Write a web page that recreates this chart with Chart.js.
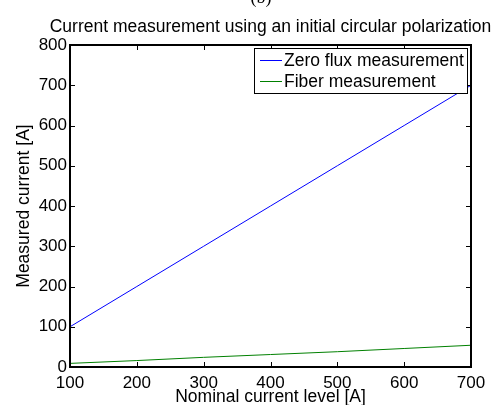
<!DOCTYPE html>
<html><head><meta charset="utf-8">
<script src="https://cdn.jsdelivr.net/npm/chart.js@4"></script>
<style>html,body{margin:0;padding:0;background:#fff}#c{display:block}</style>
</head><body>
<canvas id="c" width="493" height="405"></canvas>
<script>
const nominal = [100, 200, 300, 400, 500, 600, 700];
const zeroFlux = [100, 200, 300, 400, 500, 600, 700];
const fiber = [9, 16, 24, 31, 38, 46, 54];
const xTicks = [100, 200, 300, 400, 500, 600, 700];
const yTicks = [0, 100, 200, 300, 400, 500, 600, 700, 800];
const seriesColors = ['#0000ff', '#008000'];
const FONT = '"Liberation Sans", Arial, sans-serif';

const framePlugin = {
  id: 'frame',
  afterDatasetsDraw(chart) {
    const {ctx, chartArea: a, scales: {x, y}} = chart;
    ctx.save();
    ctx.strokeStyle = '#000';
    ctx.lineWidth = 1;
    const L = 5;
    ctx.beginPath();
    xTicks.forEach(v => {
      const px = Math.round(x.getPixelForValue(v)) + 0.5;
      ctx.moveTo(px, a.bottom); ctx.lineTo(px, a.bottom - L);
      ctx.moveTo(px, a.top); ctx.lineTo(px, a.top + L);
    });
    yTicks.forEach(v => {
      const py = Math.round(y.getPixelForValue(v)) + 0.5;
      ctx.moveTo(a.left, py); ctx.lineTo(a.left + L, py);
      ctx.moveTo(a.right, py); ctx.lineTo(a.right - L, py);
    });
    ctx.stroke();
    ctx.lineWidth = 2;
    ctx.strokeRect(a.left, a.top, a.right - a.left, a.bottom - a.top);

    // legend
    const lx = 254.5, ly = 48.5, lw = 213, lh = 45;
    ctx.fillStyle = '#fff';
    ctx.fillRect(lx, ly, lw, lh);
    ctx.lineWidth = 1;
    ctx.strokeStyle = '#000';
    ctx.strokeRect(lx, ly, lw, lh);
    ctx.font = '17.5px ' + FONT;
    ctx.textBaseline = 'middle';
    chart.data.datasets.forEach((ds, i) => {
      const yy = Math.round(ly + 11 + i * 21);
      ctx.strokeStyle = ds.borderColor;
      ctx.beginPath();
      ctx.moveTo(260, yy + 0.5); ctx.lineTo(282, yy + 0.5);
      ctx.stroke();
      ctx.fillStyle = '#000';
      ctx.fillText(ds.label, 284, yy + 1);
    });

    // title
    ctx.textAlign = 'center';
    ctx.textBaseline = 'alphabetic';
    ctx.font = '17.5px ' + FONT;
    ctx.fillText('Current measurement using an initial circular polarization', (a.left + a.right) / 2, 32);
    ctx.font = '18px "Liberation Serif", serif';
    ctx.fillText('(b)', 261, 3);
    ctx.restore();
  }
};

new Chart(document.getElementById('c'), {
  type: 'line',
  data: {
    labels: nominal,
    datasets: [
      {label: 'Zero flux measurement', data: nominal.map((v, i) => ({x: v, y: zeroFlux[i]})), borderColor: seriesColors[0], borderWidth: 1, pointRadius: 0, fill: false, tension: 0},
      {label: 'Fiber measurement', data: nominal.map((v, i) => ({x: v, y: fiber[i]})), borderColor: seriesColors[1], borderWidth: 1, pointRadius: 0, fill: false, tension: 0}
    ]
  },
  options: {
    responsive: false,
    animation: false,
    devicePixelRatio: 1,
    layout: {padding: {top: 45, right: 22, left: 0, bottom: 0}},
    plugins: {legend: {display: false}, tooltip: {enabled: false}, title: {display: false}},
    scales: {
      x: {
        type: 'linear', min: 100, max: 700,
        afterBuildTicks: s => { s.ticks = xTicks.map(v => ({value: v})); },
        afterFit: s => { s.height = 38; },
        grid: {display: false, drawTicks: false},
        border: {display: false},
        ticks: {color: '#000', font: {family: FONT, size: 17}, padding: 6, maxRotation: 0, autoSkip: false},
        title: {display: true, text: 'Nominal current level [A]', color: '#000', font: {family: FONT, size: 17.5}, padding: {top: 0, bottom: -3}}
      },
      y: {
        type: 'linear', min: 0, max: 800,
        afterBuildTicks: s => { s.ticks = yTicks.map(v => ({value: v})); },
        afterFit: s => { s.width = 70; },
        grid: {display: false, drawTicks: false},
        border: {display: false},
        ticks: {color: '#000', font: {family: FONT, size: 17}, padding: 3, autoSkip: false},
        title: {display: true, text: 'Measured current [A]', color: '#000', font: {family: FONT, size: 17.5}, padding: {top: 14, bottom: 0}}
      }
    }
  },
  plugins: [framePlugin]
});
</script>
</body></html>
